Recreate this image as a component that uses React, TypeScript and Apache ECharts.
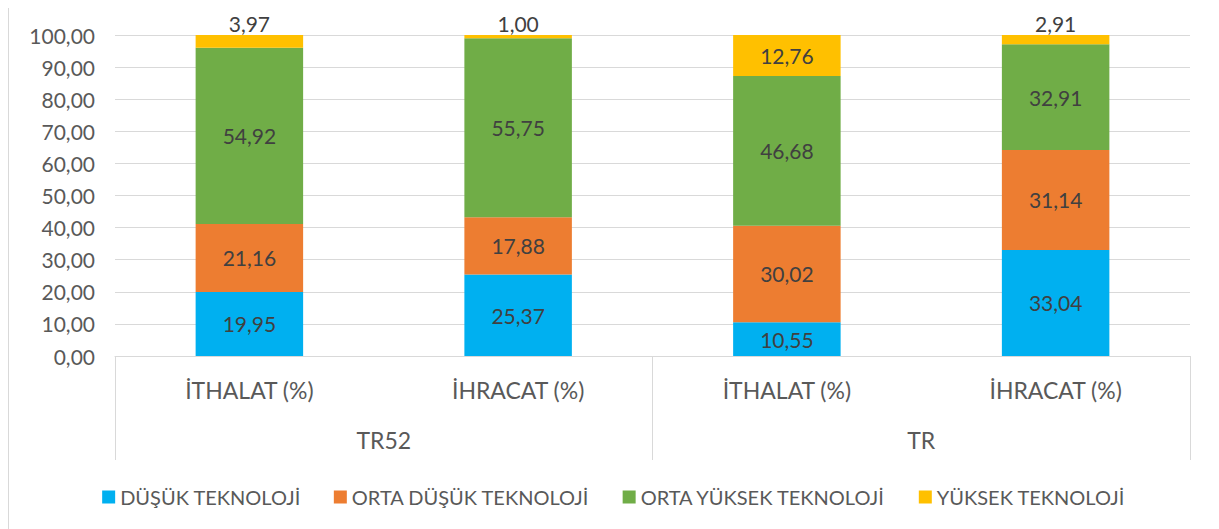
import React, { useEffect, useRef } from "react";
import * as echarts from "echarts";

const categories = ["İTHALAT (%)", "İHRACAT (%)", "İTHALAT (%)", "İHRACAT (%)"];
const groups = ["TR52", "TR"];
const seriesNames = ["DÜŞÜK TEKNOLOJİ", "ORTA DÜŞÜK TEKNOLOJİ", "ORTA YÜKSEK TEKNOLOJİ", "YÜKSEK TEKNOLOJİ"];
const dusuk = [19.95, 25.37, 10.55, 33.04];
const ortaDusuk = [21.16, 17.88, 30.02, 31.14];
const ortaYuksek = [54.92, 55.75, 46.68, 32.91];
const yuksek = [3.97, 1.0, 12.76, 2.91];
const colors = ["#00b0f0", "#ed7d31", "#70ad47", "#ffc000"];

const fmt = (v: number) => v.toFixed(2).replace(".", ",");
const FONT = "Lato";

export default function App() {
  const ref = useRef<HTMLDivElement>(null);
  useEffect(() => {
    if (!ref.current) return;
    const chart = echarts.init(ref.current, null, { renderer: "svg" });
    const all = [dusuk, ortaDusuk, ortaYuksek, yuksek];
    chart.setOption({
      animation: false,
      textStyle: { fontFamily: FONT },
      graphic: [
        {
          type: "rect",
          shape: { x: 0.5, y: 0.5, width: 1209, height: 530 },
          style: { fill: "none", stroke: "#d9d9d9", lineWidth: 1 },
          z: -10,
        },
      ],
      grid: { left: 107, right: 29, top: 29, bottom: 173, containLabel: false },
      legend: {
        top: 476,
        left: "center",
        itemWidth: 13,
        itemHeight: 13,
        itemGap: 33,
        icon: "rect",
        textStyle: { fontFamily: FONT, fontSize: 20, color: "#595959" },
        data: seriesNames,
      },
      xAxis: [
        {
          type: "category",
          data: categories,
          position: "bottom",
          axisLine: { show: true, lineStyle: { color: "#d9d9d9" } },
          axisTick: { show: false },
          axisLabel: { fontFamily: FONT, fontSize: 23, color: "#595959", margin: 22, interval: 0 },
        },
        {
          type: "category",
          data: groups,
          position: "bottom",
          offset: 0,
          axisLine: { show: false },
          axisTick: { show: true, length: 104, lineStyle: { color: "#d9d9d9" } },
          axisLabel: { fontFamily: FONT, fontSize: 23, color: "#595959", margin: 72 },
        },
      ],
      yAxis: {
        type: "value",
        min: 0,
        max: 100,
        interval: 10,
        axisLine: { show: false },
        axisTick: { show: false },
        splitLine: { lineStyle: { color: "#d9d9d9" } },
        axisLabel: { fontFamily: FONT, fontSize: 21, color: "#595959", margin: 20, formatter: (v: number) => fmt(v) },
      },
      series: seriesNames.map((name, i) => ({
        name,
        type: "bar",
        stack: "total",
        barWidth: "40%",
        xAxisIndex: 0,
        itemStyle: { color: colors[i] },
        data: all[i].map((v) => ({
          value: v,
          label: {
            show: true,
            position: v < 5 ? "top" : "inside",
            distance: 1,
            fontFamily: FONT,
            fontSize: 21,
            color: "#404040",
            formatter: () => fmt(v),
          },
        })),
      })),
    });
    return () => chart.dispose();
  }, []);
  return <div ref={ref} style={{ width: 1211, height: 523, marginTop: -2 }} />;
}
